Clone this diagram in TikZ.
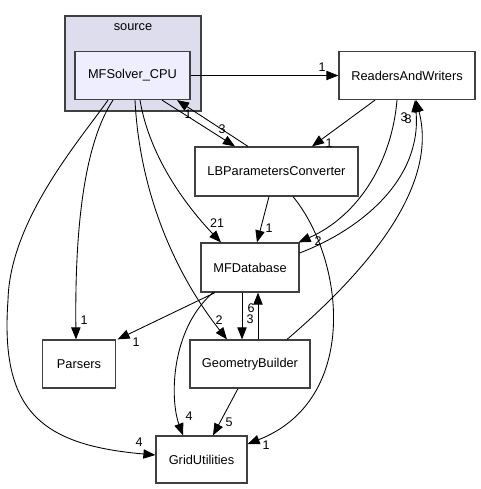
\documentclass[tikz,border=0pt]{standalone}
\usepackage{fontspec}
\setmainfont{Liberation Sans}
\usetikzlibrary{arrows.meta,calc}
\definecolor{clusterfill}{HTML}{DDDDEE}
\definecolor{dirfill}{HTML}{EEEEFF}
\definecolor{boxline}{HTML}{404040}
\begin{document}
\begin{tikzpicture}[x=0.75pt,y=-0.75pt,
  dirbox/.style={draw=boxline,line width=0.9pt,fill=white,inner sep=0pt,font=\fontsize{9.6}{11}\selectfont},
  edge/.style={draw=black,line width=0.65pt,-{Triangle[length=9pt,width=7pt]}},
  elabel/.style={inner sep=0pt,font=\fontsize{9.4}{10}\selectfont}]
\useasboundingbox (0,0) rectangle (481,489);
\fill[white] (0,0) rectangle (481,489);
% cluster
\node[dirbox,fill=clusterfill,minimum width=102pt,minimum height=71.25pt] (cluster) at (133,63.5) {};
\node[inner sep=0pt,font=\fontsize{9.6}{11}\selectfont] (clusterlabel) at (133,27) {source};
% nodes
\node[dirbox,fill=dirfill,minimum width=86.25pt,minimum height=36pt] (mfs) at (132.5,75.5) {MFSolver\_CPU};
\node[dirbox,minimum width=102pt,minimum height=36pt] (raw) at (407,75.5) {ReadersAndWriters};
\node[dirbox,minimum width=122.25pt,minimum height=36.75pt] (lbp) at (276.5,171.5) {LBParametersConverter};
\node[dirbox,minimum width=73.5pt,minimum height=36.75pt] (mfd) at (250,267.5) {MFDatabase};
\node[dirbox,minimum width=54.75pt,minimum height=36pt] (par) at (79,364) {Parsers};
\node[dirbox,minimum width=90pt,minimum height=36pt] (gb) at (250,364) {GeometryBuilder};
\node[dirbox,minimum width=68.25pt,minimum height=35.25pt] (gu) at (201.5,459.5) {GridUtilities};
% edges
\draw[edge] (mfs.east) -- (raw.west);
\draw[edge] ($(mfs.south)+(29.5,0)$) -- ($(lbp.north)+(-41.5,0)$);
\draw[edge] ($(lbp.north)+(-28.5,0)$) -- ($(mfs.south)+(44.5,0)$);
\draw[edge] ($(raw.south)+(-32,0)$) -- ($(lbp.north)+(35.5,0)$);
\draw[edge] ($(raw.south)+(-10,0)$) .. controls (392,160) and (360,215) .. ($(mfd.north east)+(-1,0)$);
\draw[edge] ($(mfd.east)+(0,-14.5)$) .. controls (360,230) and (422,180) .. ($(raw.south)+(8,0)$);
\draw[edge] ($(gb.north)+(37,0)$) .. controls (380,260) and (437,180) .. ($(raw.south)+(9,0)$);
\draw[edge] ($(lbp.south)+(-7.5,0)$) -- ($(mfd.north)+(7,0)$);
\draw[edge] ($(lbp.south)+(16.5,0)$) .. controls (345,260) and (360,400) .. ($(gu.east)+(0,-15.5)$);
\draw[edge] ($(mfs.south)+(-24.5,0)$) .. controls (80,140) and (10,220) .. (8,300)
   .. controls (0,410) and (40,445) .. ($(gu.west)+(0,-4.5)$);
\draw[edge] ($(mfs.south)+(-19.5,0)$) .. controls (80,150) and (75,250) .. ($(par.north)+(-3,0)$);
\draw[edge] ($(mfs.south)+(2.5,0)$) .. controls (140,200) and (180,280) .. ($(gb.north)+(-23,0)$);
\draw[edge] ($(mfs.south)+(7.5,0)$) .. controls (150,160) and (190,210) .. ($(mfd.north)+(-29,0)$);
\draw[edge] ($(mfd.south)+(-35,0)$) -- ($(par.north east)+(1.5,0)$);
\draw[edge] ($(mfd.south)+(-37,0)$) .. controls (170,330) and (170,400) .. ($(gu.north)+(-18.5,0)$);
\draw[edge] ($(mfd.south)+(-8,0)$) -- ($(gb.north)+(-8,0)$);
\draw[edge] ($(gb.north)+(8,0)$) -- ($(mfd.south)+(8,0)$);
\draw[edge] ($(gb.south)+(-12,0)$) -- ($(gu.north)+(11.5,0)$);
% labels
\node[elabel] (l1) at (322,67) {1};
\node[elabel] (l2) at (222,129) {3};
\node[elabel] (l3) at (188,114) {1};
\node[elabel] (l4) at (329,143) {1};
\node[elabel] (l5) at (318,241) {2};
\node[elabel] (l6) at (404,117) {3};
\node[elabel] (l7) at (408,119) {8};
\node[elabel] (l8) at (269,228) {1};
\node[elabel] (l9) at (266,445) {1};
\node[elabel] (l10) at (139,442) {4};
\node[elabel] (l11) at (84,320) {1};
\node[elabel] (l12) at (219,320) {2};
\node[elabel] (l13) at (217,223) {21};
\node[elabel] (l14) at (136,342) {1};
\node[elabel] (l15) at (189,416) {4};
\node[elabel] (l16) at (250,319) {3};
\node[elabel] (l17) at (251,308) {6};
\node[elabel] (l18) at (229,422) {5};
\end{tikzpicture}
\end{document}
